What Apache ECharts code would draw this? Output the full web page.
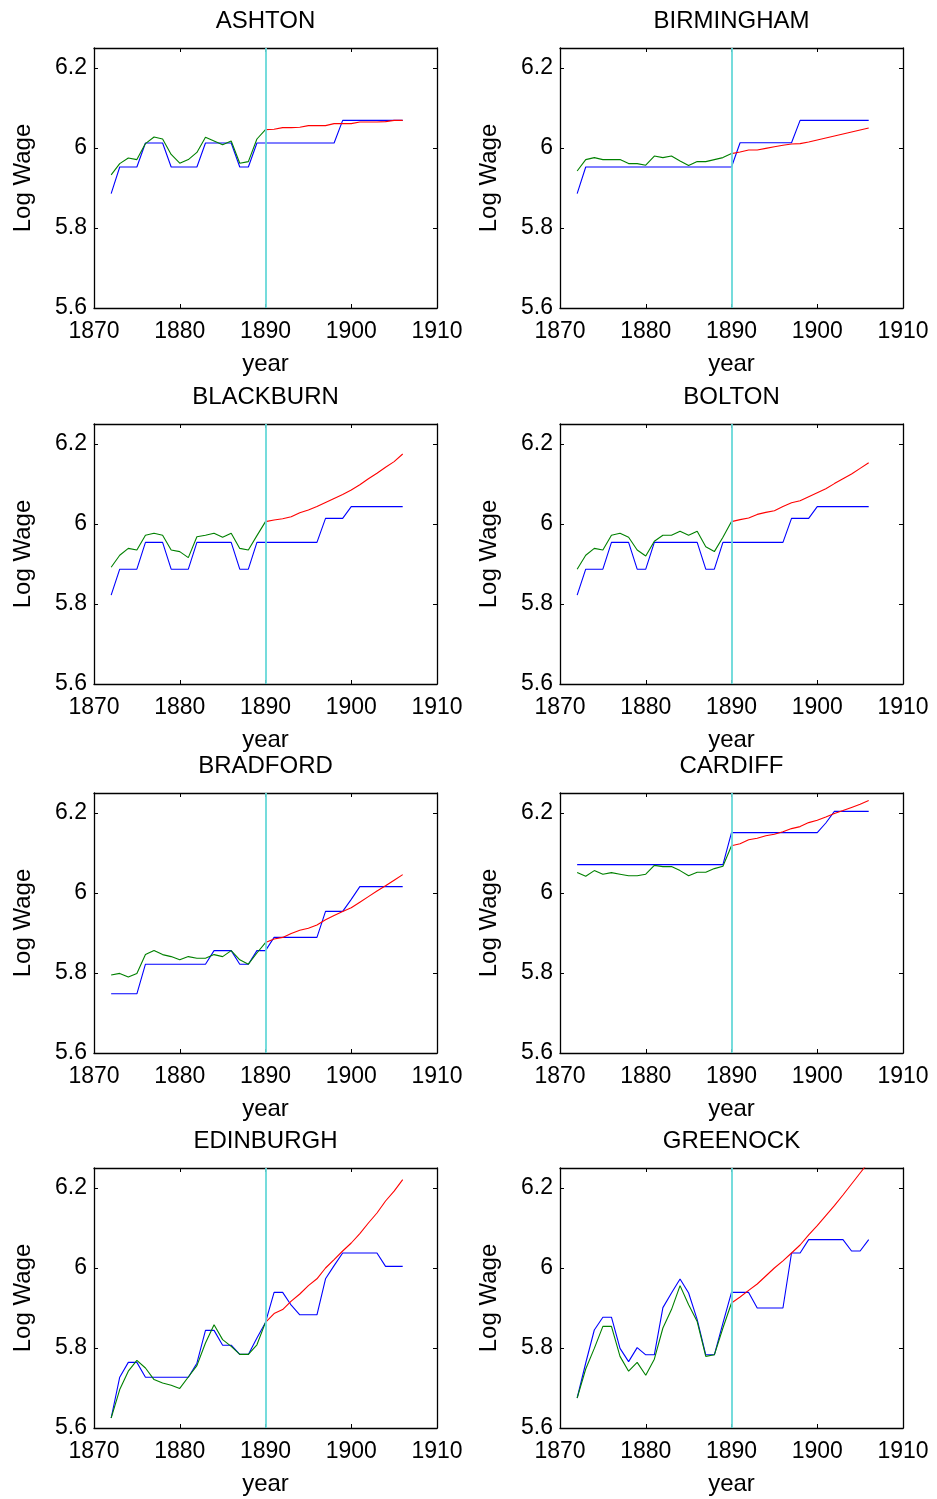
<!DOCTYPE html>
<html>
<head>
<meta charset="utf-8">
<script src="https://cdn.jsdelivr.net/npm/echarts@6/dist/echarts.min.js"></script>
<style>html,body{margin:0;padding:0;background:#fff}#c{width:937px;height:1499px}</style>
</head>
<body>
<div id="c"></div>
<script>
// ---- Data ----
const cities = ["ASHTON","BIRMINGHAM","BLACKBURN","BOLTON","BRADFORD","CARDIFF","EDINBURGH","GREENOCK"];
const yearsAll = [1872,1873,1874,1875,1876,1877,1878,1879,1880,1881,1882,1883,1884,1885,1886,1887,1888,1889,1890,1891,1892,1893,1894,1895,1896,1897,1898,1899,1900,1901,1902,1903,1904,1905,1906];
const yearsPre = [1872,1873,1874,1875,1876,1877,1878,1879,1880,1881,1882,1883,1884,1885,1886,1887,1888,1889,1890];
const yearsPost = [1890,1891,1892,1893,1894,1895,1896,1897,1898,1899,1900,1901,1902,1903,1904,1905,1906];
const xTicks = [1870,1880,1890,1900,1910];
const yTicks = [5.6,5.8,6.0,6.2];
const breakYear = 1890;

// blue: actual (1872-1906)
const blueAshton = [5.886,5.9525,5.9525,5.9525,6.0125,6.0125,6.0125,5.9525,5.9525,5.9525,5.9525,6.0125,6.0125,6.0125,6.0125,5.9525,5.9525,6.0125,6.0125,6.0125,6.0125,6.0125,6.0125,6.0125,6.0125,6.0125,6.0125,6.069,6.069,6.069,6.069,6.069,6.069,6.069,6.069];
const blueBirmingham = [5.886,5.9525,5.9525,5.9525,5.9525,5.9525,5.9525,5.9525,5.9525,5.9525,5.9525,5.9525,5.9525,5.9525,5.9525,5.9525,5.9525,5.9525,5.9525,6.013,6.013,6.013,6.013,6.013,6.013,6.013,6.069,6.069,6.069,6.069,6.069,6.069,6.069,6.069,6.069];
const blueBlackburn = [5.822,5.887,5.887,5.887,5.954,5.954,5.954,5.887,5.887,5.887,5.954,5.954,5.954,5.954,5.954,5.887,5.887,5.954,5.954,5.954,5.954,5.954,5.954,5.954,5.954,6.014,6.014,6.014,6.0435,6.0435,6.0435,6.0435,6.0435,6.0435,6.0435];
const blueBolton = [5.822,5.887,5.887,5.887,5.954,5.954,5.954,5.887,5.887,5.954,5.954,5.954,5.954,5.954,5.954,5.887,5.887,5.954,5.954,5.954,5.954,5.954,5.954,5.954,5.954,6.014,6.014,6.014,6.0435,6.0435,6.0435,6.0435,6.0435,6.0435,6.0435];
const blueBradford = [5.748,5.748,5.748,5.748,5.822,5.822,5.822,5.822,5.822,5.822,5.822,5.822,5.856,5.856,5.856,5.822,5.822,5.856,5.856,5.889,5.889,5.889,5.889,5.889,5.889,5.954,5.954,5.954,5.984,6.016,6.016,6.016,6.016,6.016,6.016];
const blueCardiff = [6.071,6.071,6.071,6.071,6.071,6.071,6.071,6.071,6.071,6.071,6.071,6.071,6.071,6.071,6.071,6.071,6.071,6.071,6.151,6.151,6.151,6.151,6.151,6.151,6.151,6.151,6.151,6.151,6.151,6.175,6.204,6.204,6.204,6.204,6.204];
const blueEdinburgh = [5.625,5.727,5.764,5.764,5.727,5.727,5.727,5.727,5.727,5.727,5.762,5.844,5.844,5.807,5.807,5.784,5.784,5.825,5.864,5.939,5.939,5.907,5.883,5.883,5.883,5.973,6.006,6.0375,6.0375,6.0375,6.0375,6.0375,6.004,6.004,6.004];
const blueGreenock = [5.675,5.7625,5.845,5.877,5.877,5.799,5.766,5.801,5.783,5.783,5.901,5.9375,5.9725,5.9375,5.871,5.783,5.783,5.862,5.939,5.939,5.939,5.9,5.9,5.9,5.9,6.0375,6.0375,6.071,6.071,6.071,6.071,6.071,6.0425,6.0425,6.071];

// green: fitted (1872-1890)
const greenAshton = [5.933,5.961,5.975,5.971,6.011,6.0275,6.0225,5.984,5.962,5.971,5.989,6.027,6.0175,6.008,6.0175,5.962,5.966,6.0225,6.046];
const greenBirmingham = [5.9425,5.971,5.976,5.971,5.971,5.971,5.961,5.961,5.957,5.98,5.976,5.98,5.9675,5.956,5.966,5.966,5.971,5.976,5.986];
const greenBlackburn = [5.892,5.922,5.939,5.935,5.972,5.977,5.972,5.935,5.931,5.916,5.968,5.972,5.977,5.967,5.977,5.939,5.935,5.971,6.006];
const greenBolton = [5.887,5.922,5.939,5.935,5.972,5.977,5.967,5.935,5.92,5.957,5.972,5.972,5.982,5.972,5.982,5.943,5.931,5.967,6.006];
const greenBradford = [5.795,5.799,5.79,5.799,5.846,5.856,5.846,5.841,5.833,5.841,5.837,5.837,5.846,5.841,5.856,5.833,5.822,5.85,5.876];
const greenCardiff = [6.051,6.042,6.056,6.047,6.051,6.047,6.043,6.043,6.047,6.069,6.066,6.066,6.056,6.043,6.052,6.052,6.061,6.067,6.118];
const greenEdinburgh = [5.625,5.696,5.742,5.769,5.75,5.721,5.7125,5.707,5.699,5.7275,5.756,5.8125,5.858,5.821,5.804,5.784,5.784,5.808,5.864];
const greenGreenock = [5.675,5.7475,5.799,5.854,5.854,5.779,5.742,5.764,5.732,5.772,5.85,5.896,5.956,5.908,5.866,5.779,5.783,5.85,5.9125];

// red: forecast (1890-1906)
const redAshton = [6.046,6.047,6.051,6.051,6.052,6.056,6.056,6.056,6.061,6.061,6.061,6.065,6.065,6.065,6.066,6.069,6.069];
const redBirmingham = [5.986,5.99,5.995,5.995,5.999,6.003,6.007,6.01,6.011,6.015,6.02,6.025,6.03,6.035,6.04,6.045,6.05];
const redBlackburn = [6.006,6.01,6.013,6.018,6.028,6.035,6.0435,6.054,6.064,6.074,6.085,6.098,6.113,6.127,6.142,6.156,6.175];
const redBolton = [6.006,6.011,6.015,6.024,6.029,6.033,6.0435,6.053,6.058,6.068,6.078,6.088,6.101,6.113,6.125,6.139,6.153];
const redBradford = [5.876,5.885,5.889,5.899,5.907,5.912,5.92,5.933,5.944,5.954,5.963,5.977,5.991,6.005,6.018,6.032,6.046];
const redCardiff = [6.118,6.123,6.133,6.137,6.143,6.147,6.153,6.161,6.166,6.176,6.182,6.19,6.199,6.206,6.214,6.222,6.231];
const redEdinburgh = [5.864,5.886,5.896,5.917,5.935,5.956,5.973,6.0,6.021,6.0425,6.0625,6.086,6.1125,6.1375,6.1675,6.192,6.221];
const redGreenock = [5.9125,5.9275,5.944,5.96,5.98,6.0,6.018,6.0375,6.0575,6.083,6.106,6.131,6.156,6.1825,6.21,6.2375,6.265];

const blues = [blueAshton,blueBirmingham,blueBlackburn,blueBolton,blueBradford,blueCardiff,blueEdinburgh,blueGreenock];
const greens = [greenAshton,greenBirmingham,greenBlackburn,greenBolton,greenBradford,greenCardiff,greenEdinburgh,greenGreenock];
const reds = [redAshton,redBirmingham,redBlackburn,redBolton,redBradford,redCardiff,redEdinburgh,redGreenock];

// ---- Layout ----
const colLeft = [94, 560];
const rowTop = [48, 424, 793, 1168];
const plotW = 343, plotH = 260;
const FONT = 'Liberation Sans, Arial, Helvetica, sans-serif';

const zip = (xs, ys) => xs.map((x, i) => [x, ys[i]]);

const grids = [], xAxes = [], yAxes = [], series = [], titles = [];
const axisLineStyle = {show: true, lineStyle: {color: '#000', width: 1.3}};
cities.forEach((name, i) => {
  const col = i % 2, row = Math.floor(i / 2);
  const left = colLeft[col], top = rowTop[row];
  grids.push({left: left, top: top, width: plotW, height: plotH, containLabel: false});
  const xBase = {gridIndex: i, type: 'value', min: xTicks[0], max: xTicks[xTicks.length - 1], interval: 10,
    splitLine: {show: false}, axisLine: axisLineStyle,
    axisTick: {show: true, inside: true, length: 4, lineStyle: {color: '#000', width: 1}}};
  xAxes.push(Object.assign({}, xBase, {position: 'bottom',
    axisLabel: {show: true, margin: 12, color: '#000', fontSize: 23, fontFamily: FONT, formatter: v => String(v)},
    name: 'year', nameLocation: 'middle', nameGap: 44,
    nameTextStyle: {color: '#000', fontSize: 24, fontFamily: FONT}}));
  xAxes.push(Object.assign({}, xBase, {position: 'top', axisLabel: {show: false}}));
  const yBase = {gridIndex: i, type: 'value', min: yTicks[0], max: 6.25, interval: 0.2,
    splitLine: {show: false}, axisLine: axisLineStyle,
    axisTick: {show: true, inside: true, length: 4, lineStyle: {color: '#000', width: 1}}};
  yAxes.push(Object.assign({}, yBase, {position: 'left',
    axisLabel: {show: true, margin: 7, color: '#000', fontSize: 23, fontFamily: FONT, showMaxLabel: false,
      formatter: v => (Math.abs(v * 5 - Math.round(v * 5)) < 1e-6 ? String(+v.toFixed(1)) : '')},
    name: 'Log Wage', nameLocation: 'middle', nameGap: 59, nameRotate: 90,
    nameTextStyle: {color: '#000', fontSize: 24, fontFamily: FONT}}));
  yAxes.push(Object.assign({}, yBase, {position: 'right', axisLabel: {show: false}}));

  titles.push({text: name, left: left + plotW / 2, top: top - 39, textAlign: 'center', padding: 0,
    textStyle: {color: '#000', fontSize: 24, fontWeight: 'normal', fontFamily: FONT}});

  const xi = 2 * i, yi = 2 * i;
  series.push({type: 'line', xAxisIndex: xi, yAxisIndex: yi, data: zip(yearsAll, blues[i]),
    showSymbol: false, symbol: 'none', lineStyle: {color: '#0000FF', width: 1.1}, z: 2, animation: false});
  series.push({type: 'line', xAxisIndex: xi, yAxisIndex: yi, data: zip(yearsPre, greens[i]),
    showSymbol: false, symbol: 'none', lineStyle: {color: '#008000', width: 1.1}, z: 3, animation: false});
  series.push({type: 'line', xAxisIndex: xi, yAxisIndex: yi, data: zip(yearsPost, reds[i]),
    showSymbol: false, symbol: 'none', lineStyle: {color: '#FF0000', width: 1.1}, z: 4, animation: false,
    markLine: {silent: true, symbol: 'none', label: {show: false}, animation: false,
      lineStyle: {color: '#66D9D9', width: 1.8, type: 'solid'}, data: [{xAxis: breakYear}]}});
});

const chart = echarts.init(document.getElementById('c'), null, {renderer: 'canvas'});
chart.setOption({
  animation: false,
  backgroundColor: '#fff',
  title: titles,
  grid: grids,
  xAxis: xAxes,
  yAxis: yAxes,
  series: series
});
</script>
</body>
</html>
